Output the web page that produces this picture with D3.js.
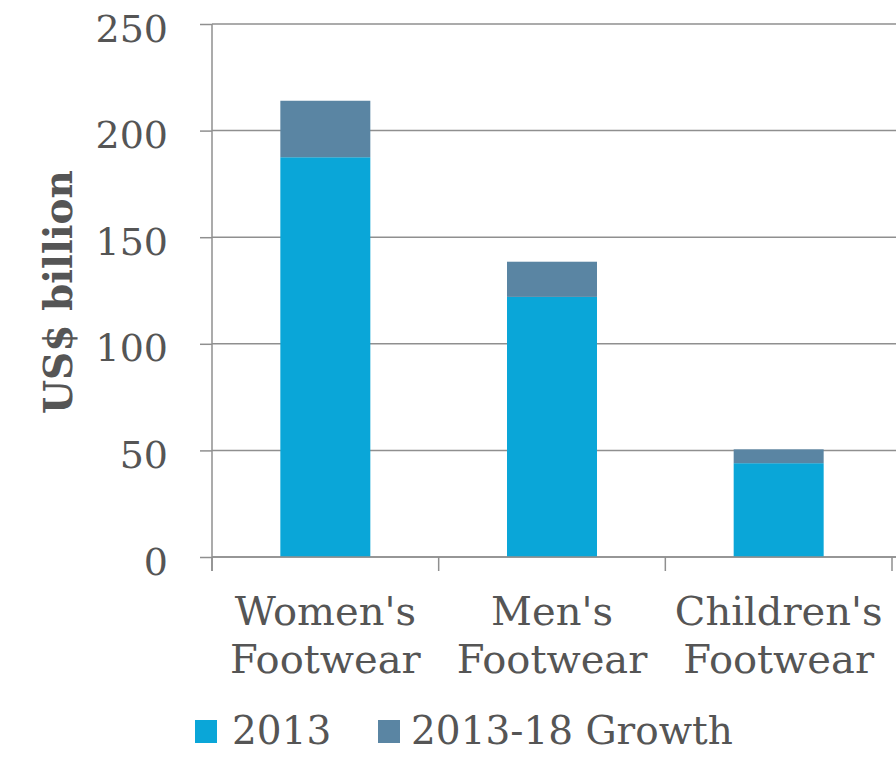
<!DOCTYPE html>
<html>
<head>
<meta charset="utf-8">
<script src="https://cdn.jsdelivr.net/npm/d3@7"></script>
<style>
  html, body { margin: 0; padding: 0; background: #fff; }
  svg { display: block; }
  text { font-family: "DejaVu Serif", "Liberation Serif", serif; fill: #555; }
</style>
</head>
<body>
<svg id="chart" width="896" height="758"></svg>
<script>
const categories = [["Women's", "Footwear"], ["Men's", "Footwear"], ["Children's", "Footwear"]];
const values2013 = [187.5, 122, 44];
const valuesGrowth = [26.5, 16.5, 6.5];
const yTicks = [0, 50, 100, 150, 200, 250];
const seriesNames = ["2013", "2013-18 Growth"];
const colors = ["#0aa6d8", "#5a85a3"];

(function () {
const svg = d3.select("#chart");
const plotL = 212, plotR = 892, plotT = 24, plotB = 557;
const catKeys = categories.map(c => c.join(" "));

const x = d3.scaleBand().domain(catKeys).range([plotL, plotR]).padding(0);
const y = d3.scaleLinear().domain([0, 250]).range([plotB, plotT]);
const barW = x.bandwidth() * 0.397;
const gridColor = "#8f8f8f";

// gridlines
svg.append("g").selectAll("line").data(yTicks).join("line")
  .attr("x1", plotL).attr("x2", 896)
  .attr("y1", d => y(d)).attr("y2", d => y(d))
  .attr("stroke", gridColor).attr("stroke-width", 1.5);

// y axis
const yAxis = d3.axisLeft(y).tickValues(yTicks).tickSizeInner(12).tickSizeOuter(0).tickPadding(32);
const gy = svg.append("g").attr("transform", `translate(${plotL},0)`).call(yAxis);
gy.select(".domain").remove();
gy.selectAll(".tick line").attr("stroke", gridColor).attr("stroke-width", 1.5);
gy.selectAll(".tick text")
  .attr("font-family", "DejaVu Serif").attr("font-size", 38).attr("fill", "#555")
  .attr("dy", "0.45em");
svg.append("line").attr("x1", plotL).attr("x2", plotL).attr("y1", plotT).attr("y2", plotB + 14)
  .attr("stroke", gridColor).attr("stroke-width", 1.5);

// stacked bars
const stackData = catKeys.map((k, i) => ({ key: k, base: values2013[i], growth: valuesGrowth[i] }));
const g = svg.append("g");
g.selectAll("rect.base").data(stackData).join("rect").attr("class", "base")
  .attr("x", d => x(d.key) + (x.bandwidth() - barW) / 2)
  .attr("width", barW)
  .attr("y", d => y(d.base))
  .attr("height", d => y(0) - y(d.base))
  .attr("fill", colors[0]);
g.selectAll("rect.growth").data(stackData).join("rect").attr("class", "growth")
  .attr("x", d => x(d.key) + (x.bandwidth() - barW) / 2)
  .attr("width", barW)
  .attr("y", d => y(d.base + d.growth))
  .attr("height", d => y(d.base) - y(d.base + d.growth))
  .attr("fill", colors[1]);

// x axis baseline & ticks
svg.append("line").attr("x1", plotL).attr("x2", 896).attr("y1", y(0)).attr("y2", y(0))
  .attr("stroke", gridColor).attr("stroke-width", 1.5);
const tickXs = catKeys.map(k => x(k)).concat([plotR]);
svg.append("g").selectAll("line").data(tickXs).join("line")
  .attr("x1", d => d).attr("x2", d => d).attr("y1", y(0)).attr("y2", y(0) + 14)
  .attr("stroke", gridColor).attr("stroke-width", 1.5);

// x labels
const xl = svg.append("g").selectAll("text").data(categories).join("text")
  .attr("text-anchor", "middle")
  .attr("font-size", 40)
  .attr("x", (d, i) => x(catKeys[i]) + x.bandwidth() / 2)
  .attr("y", 625);
xl.append("tspan").attr("x", (d, i) => x(catKeys[i]) + x.bandwidth() / 2).text(d => d[0]);
xl.append("tspan").attr("x", (d, i) => x(catKeys[i]) + x.bandwidth() / 2).attr("dy", 48).text(d => d[1]);

// y title
svg.append("text")
  .attr("transform", "translate(72,292) rotate(-90)")
  .attr("text-anchor", "middle")
  .attr("font-size", 39).attr("font-weight", "bold").attr("fill", "#555")
  .text("US$ billion");

// legend
const legendItems = [{ name: seriesNames[0], sx: 195, tx: 232 }, { name: seriesNames[1], sx: 378, tx: 411 }];
const lg = svg.append("g");
lg.selectAll("rect").data(legendItems).join("rect")
  .attr("x", d => d.sx).attr("y", 720).attr("width", 22).attr("height", 23)
  .attr("fill", (d, i) => colors[i]);
lg.selectAll("text").data(legendItems).join("text")
  .attr("x", d => d.tx).attr("y", 744).attr("font-size", 39)
  .text(d => d.name);
})();
</script>
</body>
</html>
